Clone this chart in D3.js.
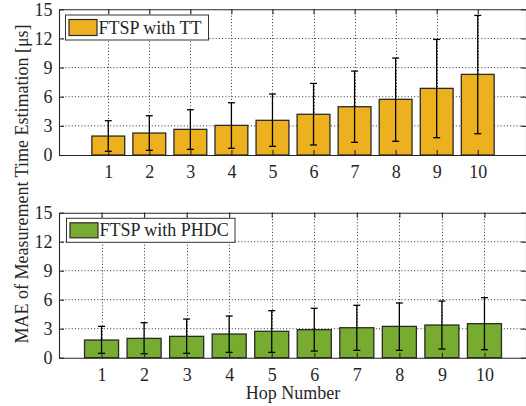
<!DOCTYPE html>
<html><head><meta charset="utf-8">
<script src="https://cdn.jsdelivr.net/npm/d3@7"></script>
<style>
html,body{margin:0;padding:0;background:#fff;}
svg{display:block;}
text{font-family:"Liberation Serif","Times New Roman",serif;fill:#262626;}
</style></head>
<body>
<svg id="chart" width="526" height="406"></svg>
<script>
const hops = [1,2,3,4,5,6,7,8,9,10];
const yTicks = [0,3,6,9,12,15];
const ttMean  = [1.95,2.26,2.64,3.05,3.57,4.19,4.97,5.73,6.86,8.30];
const ttUpper = [3.53,4.04,4.66,5.38,6.28,7.37,8.64,9.98,11.9,14.37];
const ttLower = [0.38,0.48,0.58,0.69,0.89,1.03,1.30,1.41,1.78,2.19];
const phMean  = [1.83,2.00,2.21,2.45,2.73,2.90,3.10,3.24,3.38,3.52];
const phUpper = [3.24,3.62,4.00,4.31,4.86,5.11,5.42,5.66,5.86,6.21];
const phLower = [0.45,0.41,0.45,0.55,0.55,0.69,0.76,0.76,0.90,0.83];
const seriesNames = ["FTSP with TT","FTSP with PHDC"];
const colors = ["#EDB120","#77AC30"];

const svg = d3.select("#chart");
const axisColor = "#262626";

function panel(cfg){
  const g = svg.append("g");
  const x = d3.scaleLinear().domain(cfg.xDomain).range([59, 527]);
  const y = d3.scaleLinear().domain([0,15]).range([cfg.bottom, cfg.top]);
  const unit = x(1)-x(0);
  const bw = unit*0.8;

  // grid
  g.append("g").selectAll("line.h").data(yTicks.filter(d=>d>0&&d<15)).join("line")
    .attr("x1",x.range()[0]).attr("x2",x.range()[1])
    .attr("y1",d=>y(d)).attr("y2",d=>y(d))
    .attr("stroke","#333").attr("stroke-width",1).attr("stroke-dasharray","1,2.2");
  g.append("g").selectAll("line.v").data(hops).join("line")
    .attr("x1",d=>Math.round(x(d))+0.5).attr("x2",d=>Math.round(x(d))+0.5)
    .attr("y1",y(15)).attr("y2",y(0))
    .attr("stroke","#333").attr("stroke-width",1).attr("stroke-dasharray","1,2.2");

  // bars
  g.append("g").selectAll("rect").data(hops).join("rect")
    .attr("x",(d,i)=>x(d)-bw/2).attr("width",bw)
    .attr("y",(d,i)=>y(cfg.mean[i])).attr("height",(d,i)=>y(0)-y(cfg.mean[i]))
    .attr("fill",cfg.color).attr("stroke","#2a2a2a").attr("stroke-width",1.3);

  // error bars
  const eb = g.append("g").attr("stroke","#000").attr("stroke-width",1.3);
  eb.selectAll("line.v").data(hops).join("line")
    .attr("x1",d=>x(d)).attr("x2",d=>x(d))
    .attr("y1",(d,i)=>y(cfg.upper[i])).attr("y2",(d,i)=>y(cfg.lower[i]));
  eb.selectAll("line.u").data(hops).join("line")
    .attr("x1",d=>x(d)-3.5).attr("x2",d=>x(d)+3.5)
    .attr("y1",(d,i)=>y(cfg.upper[i])).attr("y2",(d,i)=>y(cfg.upper[i]));
  eb.selectAll("line.l").data(hops).join("line")
    .attr("x1",d=>x(d)-3.5).attr("x2",d=>x(d)+3.5)
    .attr("y1",(d,i)=>y(cfg.lower[i])).attr("y2",(d,i)=>y(cfg.lower[i]));

  // axes
  const left = g.append("g").attr("transform",`translate(${x.range()[0]},0)`)
    .call(d3.axisLeft(y).tickValues(yTicks).tickSizeInner(-5).tickSizeOuter(0).tickPadding(8));
  const right = g.append("g").attr("transform",`translate(${x.range()[1]-1},0)`)
    .call(d3.axisRight(y).tickValues(yTicks).tickSizeInner(-5).tickSizeOuter(0).tickFormat(""));
  const bottom = g.append("g").attr("transform",`translate(0,${y(0)})`)
    .call(d3.axisBottom(x).tickValues(hops).tickSizeInner(-5).tickSizeOuter(0).tickPadding(10).tickFormat(d3.format("d")));
  const top = g.append("g").attr("transform",`translate(0,${y(15)})`)
    .call(d3.axisTop(x).tickValues(hops).tickSizeInner(-5).tickSizeOuter(0).tickFormat(""));
  [left,right,bottom,top].forEach(a=>{
    a.attr("font-family",null);
    a.selectAll("path,line").attr("stroke",axisColor).attr("stroke-width",1.1);
    a.selectAll("text").attr("font-size","18px").attr("fill",axisColor);
  });
  left.selectAll("text").attr("x",-6.5);
  bottom.selectAll("text").attr("dy","0.72em");

  // legend
  const L = cfg.legend;
  const lg = g.append("g");
  lg.append("rect").attr("x",L.x).attr("y",L.y).attr("width",L.w).attr("height",L.h)
    .attr("fill","#fff").attr("stroke","#333").attr("stroke-width",1);
  lg.append("rect").attr("x",L.x+3.5).attr("y",L.y+4.5).attr("width",28).attr("height",L.h-9)
    .attr("fill",cfg.color).attr("stroke","#2a2a2a").attr("stroke-width",1.2);
  lg.append("text").attr("x",L.x+33).attr("y",L.y+L.h-6.5).attr("font-size","18px")
    .text(cfg.name);
}

panel({xDomain:[-0.2,11.2], top:9.3, bottom:155, mean:ttMean, upper:ttUpper, lower:ttLower,
  color:colors[0], name:seriesNames[0], legend:{x:65.5,y:15,w:143,h:25}});
panel({xDomain:[0,11], top:212.7, bottom:357.7, mean:phMean, upper:phUpper, lower:phLower,
  color:colors[1], name:seriesNames[1], legend:{x:66.5,y:218.3,w:168.5,h:24}});

svg.append("text").attr("transform","translate(28,184) rotate(-90)")
  .attr("text-anchor","middle").attr("font-size","18px")
  .text("MAE of Measurement Time Estimation [μs]");
svg.append("text").attr("x",293).attr("y",399).attr("text-anchor","middle")
  .attr("font-size","18px").text("Hop Number");
</script>
</body></html>
